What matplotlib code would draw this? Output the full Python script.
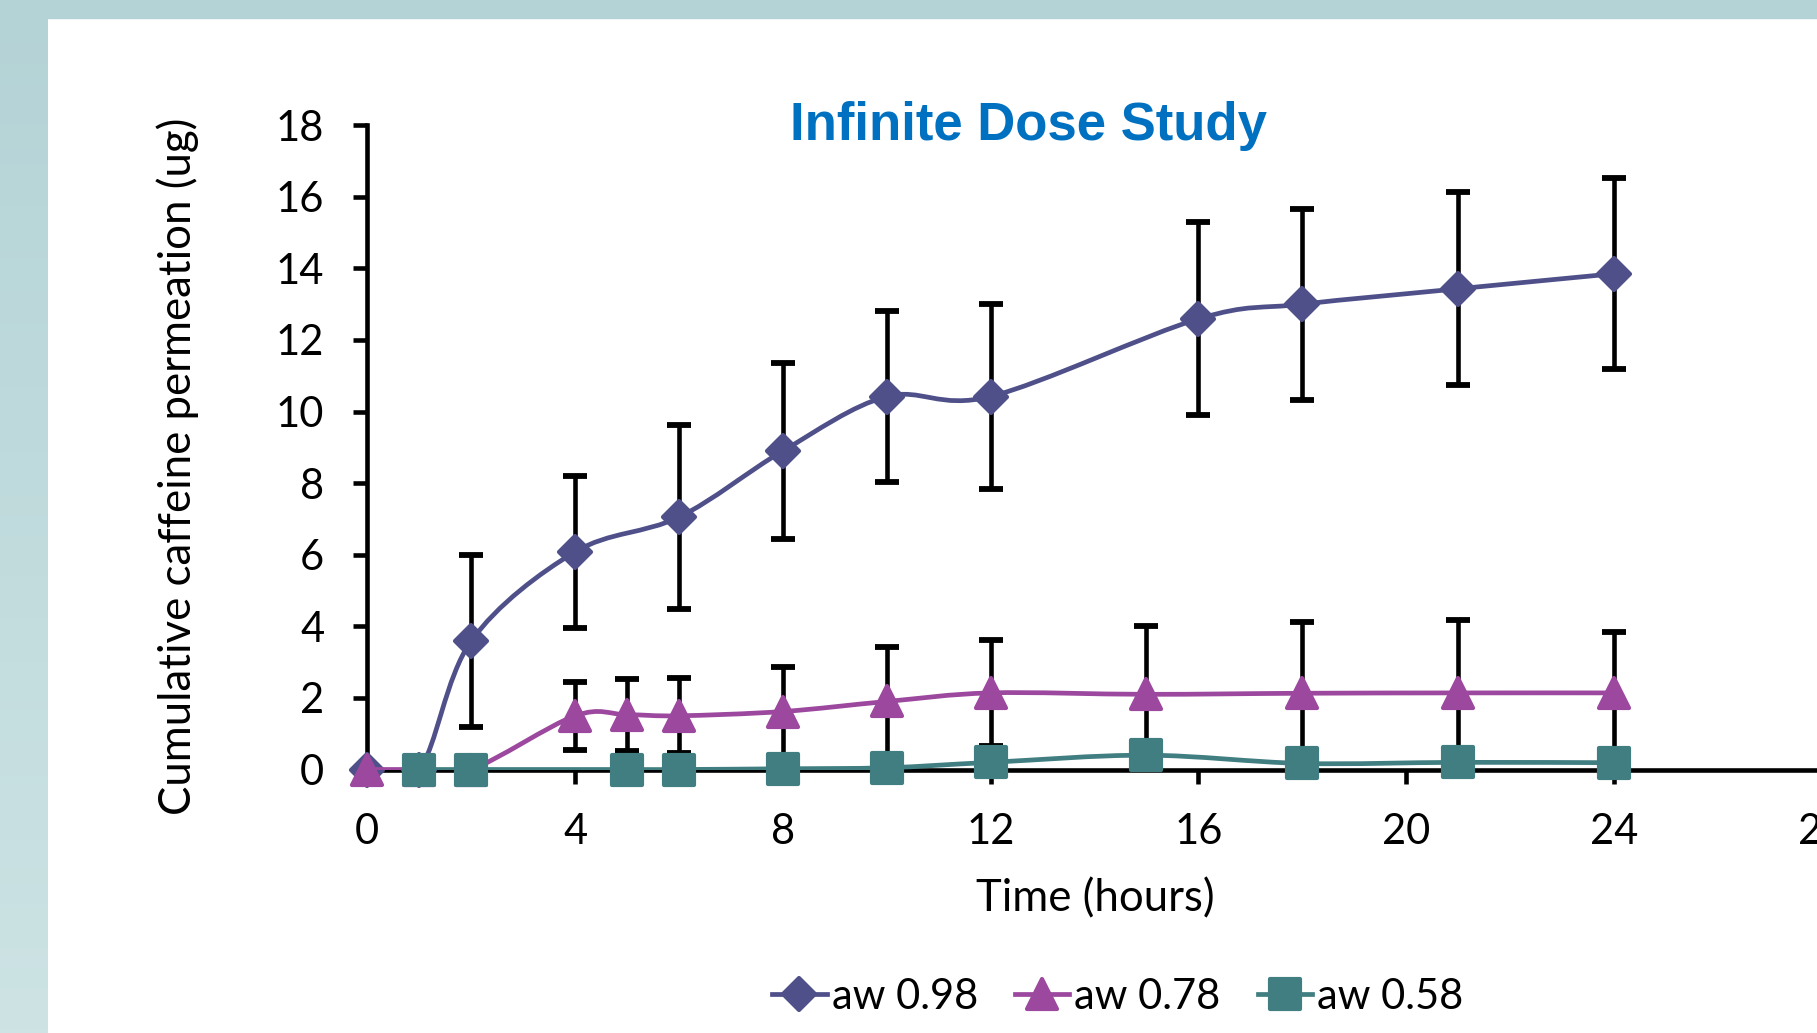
import numpy as np
import matplotlib.pyplot as plt
from matplotlib.path import Path
from matplotlib.patches import PathPatch, Rectangle
from matplotlib.lines import Line2D
from matplotlib.markers import MarkerStyle
from matplotlib.colors import LinearSegmentedColormap

# data
hours_98 = [0, 1, 2, 4, 6, 8, 10, 12, 16, 18, 21, 24]
mean_98 = [0, 0, 3.59, 6.08, 7.05, 8.90, 10.42, 10.42, 12.59, 13.00, 13.43, 13.85]
err_98 = [0, 0, 2.40, 2.12, 2.57, 2.46, 2.38, 2.59, 2.70, 2.67, 2.69, 2.67]

hours_78 = [0, 1, 2, 4, 5, 6, 8, 10, 12, 15, 18, 21, 24]
mean_78 = [0, 0, 0, 1.50, 1.53, 1.50, 1.62, 1.90, 2.14, 2.10, 2.13, 2.14, 2.14]
err_78 = [0, 0, 0, 0.95, 1.01, 1.05, 1.25, 1.52, 1.48, 1.92, 1.99, 2.03, 1.71]

hours_58 = [1, 2, 5, 6, 8, 10, 12, 15, 18, 21, 24]
mean_58 = [0, 0, 0, 0, 0.02, 0.05, 0.20, 0.40, 0.17, 0.20, 0.19]

labels = ['aw 0.98', 'aw 0.78', 'aw 0.58']
colors = ['#4f5089', '#9c489e', '#417e82']
markers = ['D', '^', 's']

FONT = 'Lato'
SIZE = 30
LABELSIZE = 31.5
LW = 3.4
W, H = 1817, 1033


def smooth_path(xs, ys):
    # Excel-style smoothed line: cubic bezier through the points
    p = np.column_stack([xs, ys]).astype(float)
    n = len(p)
    verts = [p[0]]
    codes = [Path.MOVETO]
    for i in range(n - 1):
        prev = p[max(i - 1, 0)]
        nxt = p[min(i + 2, n - 1)]
        c1 = p[i] + (p[i + 1] - prev) / 6
        c2 = p[i + 1] - (nxt - p[i]) / 6
        verts += [c1, c2, p[i + 1]]
        codes += [Path.CURVE4] * 3
    return Path(verts, codes)


def mstyle(m):
    return MarkerStyle(m, joinstyle='round')


MSIZE = {'D': 16.5, '^': 22, 's': 21}

fig = plt.figure(figsize=(W / 100, H / 100), dpi=100)
fig.patch.set_facecolor('white')

# teal frame on the left and top
bg = fig.add_axes([0, 0, 47 / W, 1])
grad = np.linspace(0, 1, 256).reshape(-1, 1)
cmap = LinearSegmentedColormap.from_list('frame', ['#b4d3d6', '#cde3e4'])
bg.imshow(grad, aspect='auto', cmap=cmap)
bg.axis('off')
fig.add_artist(Rectangle((0, 1 - 18 / H), 1, 18 / H, transform=fig.transFigure,
                         color='#b4d3d6', zorder=1))

x0, x28 = 367.3, 1821.7
y0, y18 = 769.5, 125.2
ax = fig.add_axes([x0 / W, (H - y0) / H, (x28 - x0) / W, (y0 - y18) / H])
ax.set_facecolor('none')

series = [(hours_98, mean_98, err_98), (hours_78, mean_78, err_78), (hours_58, mean_58, None)]
for k, (xs, ys, es) in enumerate(series):
    if es is not None:
        ax.errorbar(xs, ys, yerr=es, fmt='none', ecolor='black', elinewidth=3.3,
                    capsize=8.5, capthick=4.2, zorder=2, clip_on=False)
    ax.add_patch(PathPatch(smooth_path(xs, ys), facecolor='none', edgecolor=colors[k],
                           lw=LW, zorder=3 + k))
    ax.plot(xs, ys, linestyle='none', marker=mstyle(markers[k]), ms=MSIZE[markers[k]],
            mfc=colors[k], mec=colors[k], mew=3, zorder=3.5 + k, clip_on=False)

ax.set_xlim(0, 28)
ax.set_ylim(0, 18)
ax.set_xticks(range(0, 29, 4))
ax.set_yticks(range(0, 19, 2))
for s in ['top', 'right']:
    ax.spines[s].set_visible(False)
for s in ['left', 'bottom']:
    ax.spines[s].set_linewidth(3.3)
ax.tick_params(direction='out', length=10, width=3.3, pad=21, labelsize=SIZE)
for t in ax.get_xticklabels() + ax.get_yticklabels():
    t.set_fontfamily(FONT)

fig.text(1029 / W, 1 - 140 / H, 'Infinite Dose Study', ha='center', va='baseline',
         fontsize=38, fontweight='bold', color='#0070c0', family='Liberation Sans')
fig.text(1095 / W, 1 - 911.7 / H, 'Time (hours)', ha='center', va='baseline',
         fontsize=LABELSIZE, family=FONT)
fig.text(178 / W, 1 - 466 / H, 'Cumulative caffeine permeation (ug)', rotation=90,
         ha='center', va='center', fontsize=LABELSIZE, family=FONT)

handles = [Line2D([], [], color=c, lw=LW, marker=mstyle(m), ms=MSIZE[m],
                  mfc=c, mec=c, mew=3) for c, m in zip(colors, markers)]
fig.legend(handles, labels, loc='center', bbox_to_anchor=(1118 / W, 36 / H), ncol=3,
           frameon=False, handlelength=1.3, handletextpad=0.12, columnspacing=0.9,
           borderpad=0, prop={'family': FONT, 'size': SIZE})

fig.savefig('out.png', dpi=100)
